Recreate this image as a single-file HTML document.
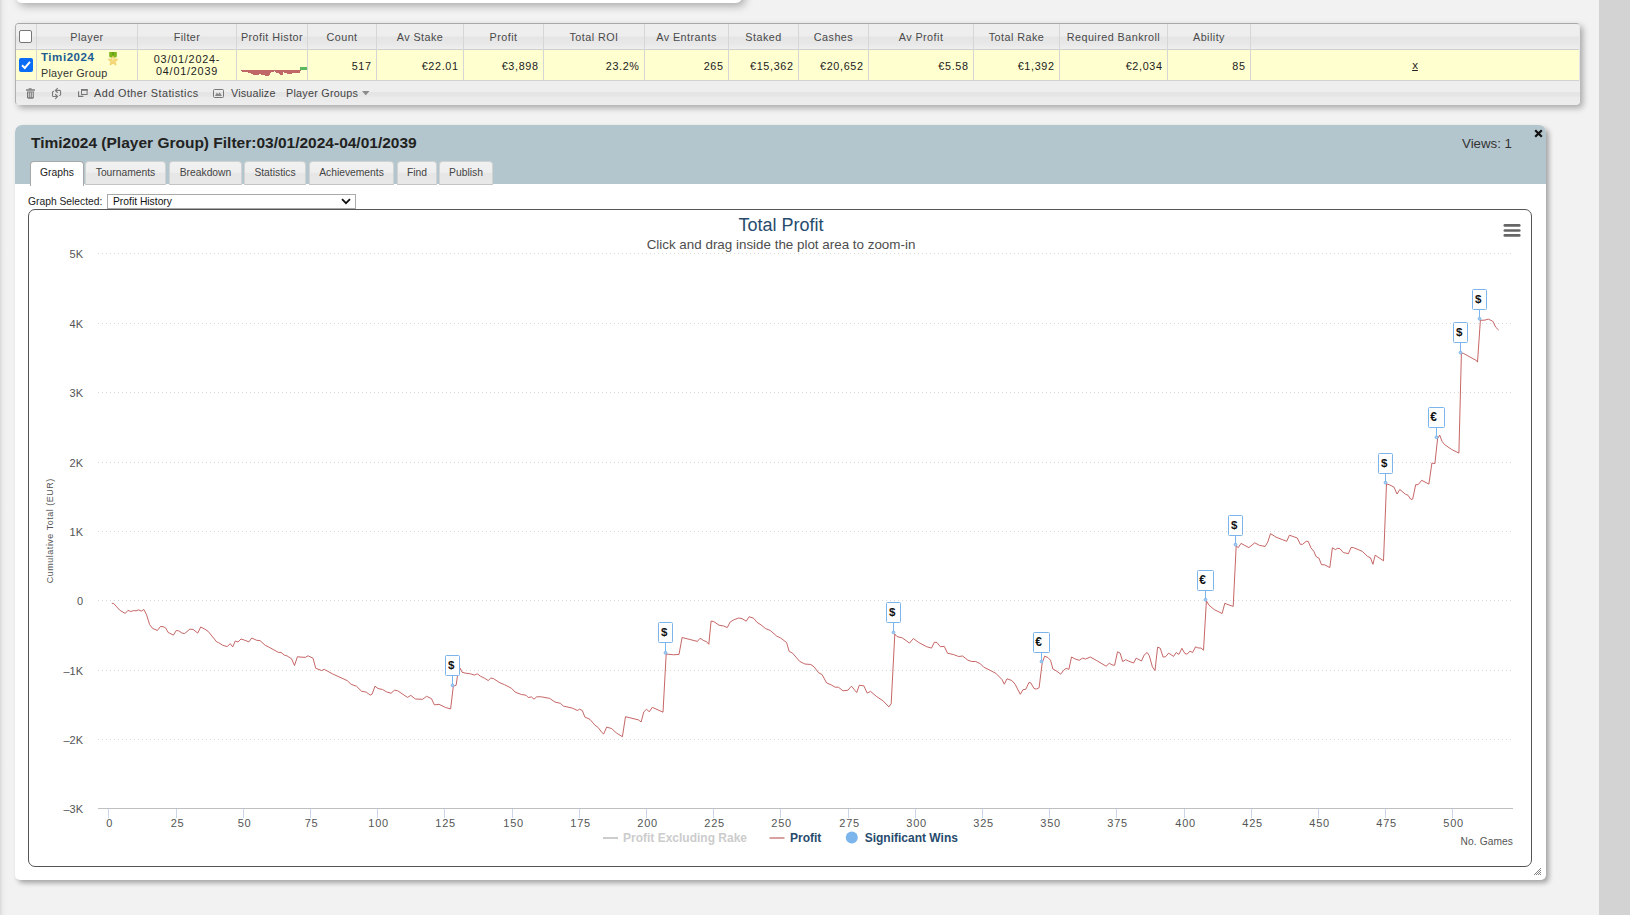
<!DOCTYPE html>
<html><head><meta charset="utf-8">
<style>
*{box-sizing:border-box;margin:0;padding:0}
html,body{width:1630px;height:915px;overflow:hidden;background:#f2f2f2;font-family:"Liberation Sans",sans-serif;color:#333;position:relative}
.a{position:absolute}
#lstrip{left:0;top:0;width:7px;height:915px;background:linear-gradient(to right,#d8d8d8,#e6e6e6 25%,#eeeeee 55%,#f2f2f2)}
#rstrip{left:1599px;top:0;width:31px;height:915px;background:#d3d3d3}
#topbox{left:16px;top:-20px;width:726px;height:23px;background:#fff;border-radius:0 0 6px 6px;box-shadow:3px 3px 8px rgba(0,0,0,.3)}
#tbl{left:15px;top:23px;width:1565px;height:82px;border:1px solid #b0b0b0;border-top-color:#a8a8a8;border-right-color:#e8e8e8;border-bottom-color:#ececec;border-radius:4px;background:#ececec;box-shadow:3px 3px 6px rgba(0,0,0,.3)}
.vd{top:24px;width:1px;height:56px;background:#d6d6d6}
.th{top:24px;height:25px;line-height:27.5px;text-align:center;font-size:10.8px;letter-spacing:.45px;color:#4a4a4a;white-space:nowrap}
.td{top:50px;height:30px;line-height:32.5px;text-align:right;padding-right:4.4px;font-size:10.8px;letter-spacing:.65px;color:#222;white-space:nowrap}
#hrow{left:16px;top:24px;width:1563px;height:25px;background:linear-gradient(#eeeeee 0%,#eeeeee 49%,#e5e5e5 51%,#e7e7e7 75%,#ececec 92%,#efefef 100%);border-radius:3px 3px 0 0}
#hline{left:16px;top:49px;width:1563px;height:1px;background:#cfcfcf}
#drow{left:16px;top:50px;width:1563px;height:30px;background:#ffffd0}
#dline{left:16px;top:80px;width:1563px;height:1px;background:#d2d2d2}
#frow{left:16px;top:81px;width:1564px;height:23px;background:linear-gradient(#eeeeee 0%,#eeeeee 46%,#e5e5e5 50%,#e6e6e6 66%,#ebebeb 72%,#ededed 100%);border-radius:0 0 3px 3px}
.ft{top:81px;height:23px;line-height:24px;font-size:10.8px;letter-spacing:.25px;color:#444;white-space:nowrap}
#panel{left:15px;top:125px;width:1531px;height:755px;background:#fff;border-radius:7px 7px 5px 5px;box-shadow:3px 3px 5px rgba(0,0,0,.32)}
#phead{left:15px;top:125px;width:1531px;height:59px;background:#b3c6cd;border-radius:7px 7px 0 0}
.tab{top:161px;height:24px;border:1px solid #d2d2d2;border-bottom-color:#c4c4c4;border-radius:4px 4px 0 0;background:linear-gradient(#f1f1f1 0%,#eeeeee 47%,#e6e6e6 52%,#e8e8e8 100%);font-size:10.3px;color:#444;text-align:center;line-height:21px;white-space:nowrap}
.tab.act{background:#fff;color:#222;border-color:#a8a8a8;border-bottom:none;height:25px}
#cbox{left:28px;top:209px;width:1504px;height:658px;border:1px solid #555;border-radius:7px;background:#fff}
</style></head><body>
<div class="a" id="lstrip"></div>
<div class="a" id="rstrip"></div>
<div class="a" id="topbox"></div>
<!-- TABLE -->
<div class="a" id="tbl"></div>
<div class="a" id="hrow"></div>
<div class="a" id="hline"></div>
<div class="a" id="drow"></div>
<div class="a" id="dline"></div>
<div class="a" id="frow"></div>
<div class="a vd" style="left:36px"></div>
<div class="a vd" style="left:137px"></div>
<div class="a vd" style="left:236px"></div>
<div class="a vd" style="left:307px"></div>
<div class="a vd" style="left:376px"></div>
<div class="a vd" style="left:463px"></div>
<div class="a vd" style="left:543px"></div>
<div class="a vd" style="left:644px"></div>
<div class="a vd" style="left:728px"></div>
<div class="a vd" style="left:798px"></div>
<div class="a vd" style="left:868px"></div>
<div class="a vd" style="left:973px"></div>
<div class="a vd" style="left:1059px"></div>
<div class="a vd" style="left:1167px"></div>
<div class="a vd" style="left:1250px"></div>
<div class="a th" style="left:37px;width:100px">Player</div>
<div class="a th" style="left:138px;width:98px">Filter</div>
<div class="a th" style="left:237px;width:70px">Profit Histor</div>
<div class="a th" style="left:308px;width:68px">Count</div>
<div class="a td" style="left:308px;width:68px">517</div>
<div class="a th" style="left:377px;width:86px">Av Stake</div>
<div class="a td" style="left:377px;width:86px">€22.01</div>
<div class="a th" style="left:464px;width:79px">Profit</div>
<div class="a td" style="left:464px;width:79px">€3,898</div>
<div class="a th" style="left:544px;width:100px">Total ROI</div>
<div class="a td" style="left:544px;width:100px">23.2%</div>
<div class="a th" style="left:645px;width:83px">Av Entrants</div>
<div class="a td" style="left:645px;width:83px">265</div>
<div class="a th" style="left:729px;width:69px">Staked</div>
<div class="a td" style="left:729px;width:69px">€15,362</div>
<div class="a th" style="left:799px;width:69px">Cashes</div>
<div class="a td" style="left:799px;width:69px">€20,652</div>
<div class="a th" style="left:869px;width:104px">Av Profit</div>
<div class="a td" style="left:869px;width:104px">€5.58</div>
<div class="a th" style="left:974px;width:85px">Total Rake</div>
<div class="a td" style="left:974px;width:85px">€1,392</div>
<div class="a th" style="left:1060px;width:107px">Required Bankroll</div>
<div class="a td" style="left:1060px;width:107px">€2,034</div>
<div class="a th" style="left:1168px;width:82px">Ability</div>
<div class="a td" style="left:1168px;width:82px">85</div>
<div class="a" style="left:19px;top:30px;width:13px;height:13px;border:1px solid #767676;border-radius:2px;background:#fff"></div>
<div class="a" style="left:19px;top:58px;width:14px;height:14px;border-radius:2px;background:#0b6cf5"></div>
<svg class="a" style="left:19px;top:58px" width="14" height="14" viewBox="0 0 14 14"><path d="M3 7.2 L5.8 10 L11 3.8" fill="none" stroke="#fff" stroke-width="2"/></svg>
<div class="a" style="left:41px;top:50px;font-size:11.5px;font-weight:bold;color:#1c5b94;line-height:14px;letter-spacing:.55px">Timi2024</div>
<div class="a" style="left:41px;top:66px;font-size:10.8px;letter-spacing:.23px;color:#333;line-height:14px">Player Group</div>
<svg class="a" style="left:107px;top:51px" width="12" height="16" viewBox="0 0 12 16"><path d="M2.2 1 H9.8 V5 Q9.8 6.6 8.2 6.6 L7 6.6 L6 5.2 L5 6.6 L3.8 6.6 Q2.2 6.6 2.2 5 Z" fill="#7db61c"/><path d="M5.3 1 H6.7 V6 H5.3Z" fill="#5e9a10"/><path d="M6.00 4.60 L7.47 7.88 L11.04 8.26 L8.38 10.67 L9.12 14.19 L6.00 12.40 L2.88 14.19 L3.62 10.67 L0.96 8.26 L4.53 7.88 Z" fill="#f5d978" stroke="#ebc45a" stroke-width=".5" stroke-linejoin="round"/><path d="M6 6 L6.8 8.6 L6 9.5 L5.2 8.6Z" fill="#fbeec0"/></svg>
<div class="a" style="left:138px;top:53px;width:98px;text-align:center;font-size:10.8px;letter-spacing:.8px;color:#222;line-height:12.3px">03/01/2024-<br>04/01/2039</div>
<svg class="a" style="left:236px;top:60px" width="72" height="20" viewBox="0 0 72 20"><path d="M5 10 H65 V11 H64 V13 H56 V14 H51 V13 H48 V12 H47 V15 H44 V14 H43 V13 H40 V12 H39 V11 H38 V12 H35 V13 H34 V15 H33 V16 H29 V15 H25 V14 H23 V15 H17 V14 H15 V13 H12 V12 H6 V11 H5 Z" fill="#c06767"/><rect x="64" y="7" width="7" height="3" fill="#5cb85c"/></svg>
<div class="a" style="left:1251px;top:50px;width:328px;height:30px;line-height:31px;text-align:center;font-size:11.5px;color:#222;text-decoration:underline">x</div>
<!-- footer -->
<svg class="a" style="left:25px;top:87px" width="11" height="13" viewBox="0 0 11 13"><rect x="3.6" y="1.3" width="3" height="1.2" fill="#777"/><rect x="1" y="2.3" width="9" height="1.4" fill="#777"/><path d="M2 4.6 H9 V10.4 L8 11.8 H3 L2 10.4 Z" fill="#777"/><rect x="3.3" y="5.4" width="0.9" height="4.9" fill="#e8e8e8"/><rect x="5.3" y="5.4" width="0.9" height="4.9" fill="#e8e8e8"/><rect x="7.3" y="5.4" width="0.9" height="4.9" fill="#e8e8e8"/></svg>
<svg class="a" style="left:48px;top:85px" width="18" height="16" viewBox="0 0 18 16"><path d="M11.7 5.4 H7.4 M9.4 3.3 L7.3 5.4 L9.4 7.5 M11.6 5.4 Q12.6 5.4 12.6 6.5 V9.6 Q12.6 10.5 11.6 10.5 M5.4 11.5 H9.6 M7.5 9.5 L9.6 11.5 L7.5 13.6 M5.4 11.5 Q4.5 11.5 4.5 10.4 V7.4 Q4.5 6.4 5.4 6.4" fill="none" stroke="#7a7a7a" stroke-width="1.1" stroke-linecap="round"/></svg>
<svg class="a" style="left:78px;top:89px" width="10" height="8" viewBox="0 0 10 8"><path d="M0.6 2.2 V7.4 H5.4" fill="none" stroke="#777" stroke-width="1.1"/><rect x="3.5" y="0.5" width="5.6" height="5" fill="none" stroke="#777" stroke-width="1"/><rect x="3" y="0" width="6.6" height="1.8" fill="#777"/></svg>
<div class="a ft" style="left:94px;letter-spacing:.46px">Add Other Statistics</div>
<svg class="a" style="left:213px;top:89px" width="11" height="9" viewBox="0 0 11 9"><rect x="0.5" y="0.5" width="10" height="8" rx="1" fill="none" stroke="#777" stroke-width="1"/><path d="M2 7 L3.8 3.6 L5.2 5.2 L6.6 3.2 L9 7 Z" fill="#888"/></svg>
<div class="a ft" style="left:231px;letter-spacing:.18px">Visualize</div>
<div class="a ft" style="left:286px">Player Groups</div>
<svg class="a" style="left:362px;top:91px" width="8" height="5" viewBox="0 0 8 5"><path d="M0 0 H7.5 L3.75 4.2 Z" fill="#8a8a8a"/></svg>
<!-- PANEL -->
<div class="a" id="panel"></div>
<div class="a" id="phead"></div>
<div class="a" style="left:31px;top:133px;font-size:15.5px;font-weight:bold;color:#222;line-height:20px;white-space:nowrap">Timi2024 (Player Group) Filter:03/01/2024-04/01/2039</div>
<div class="a" style="left:1462px;top:134.6px;font-size:13.3px;color:#333;line-height:17px;white-space:nowrap">Views: 1</div>
<svg class="a" style="left:1534px;top:129px" width="9" height="9" viewBox="0 0 9 9"><path d="M1.2 1.2 L7.8 7.8 M7.8 1.2 L1.2 7.8" stroke="#111" stroke-width="2.2"/></svg>
<div class="a tab act" style="left:30px;width:54px">Graphs</div>
<div class="a tab" style="left:85px;width:81px">Tournaments</div>
<div class="a tab" style="left:169px;width:73px">Breakdown</div>
<div class="a tab" style="left:244px;width:62px">Statistics</div>
<div class="a tab" style="left:309px;width:85px">Achievements</div>
<div class="a tab" style="left:397px;width:40px">Find</div>
<div class="a tab" style="left:439px;width:54px">Publish</div>
<div class="a" style="left:28px;top:194px;font-size:10.3px;color:#222;line-height:15px">Graph Selected:</div>
<div class="a" style="left:107px;top:194px;width:249px;height:15px;border:1px solid #a9a9a9;background:#fff;font-size:10.3px;color:#111;line-height:13px;padding-left:5px">Profit History</div>
<svg class="a" style="left:341px;top:198px" width="10" height="7" viewBox="0 0 10 7"><path d="M1 1.2 L5 5.2 L9 1.2" fill="none" stroke="#111" stroke-width="1.8"/></svg>
<div class="a" id="cbox"></div>
<!--CHART-->
<svg class="a" style="left:0;top:0" width="1630" height="915" viewBox="0 0 1630 915" font-family="Liberation Sans, sans-serif">
<text x="781" y="231" text-anchor="middle" font-size="18" fill="#274b6d">Total Profit</text>
<text x="781" y="249" text-anchor="middle" font-size="13.4" fill="#4d4d4d">Click and drag inside the plot area to zoom-in</text>
<line x1="98" y1="253.5" x2="1513" y2="253.5" stroke="#d8d8d8" stroke-width="1" stroke-dasharray="1 3"/>
<line x1="98" y1="323.5" x2="1513" y2="323.5" stroke="#d8d8d8" stroke-width="1" stroke-dasharray="1 3"/>
<line x1="98" y1="392.5" x2="1513" y2="392.5" stroke="#d8d8d8" stroke-width="1" stroke-dasharray="1 3"/>
<line x1="98" y1="462.5" x2="1513" y2="462.5" stroke="#d8d8d8" stroke-width="1" stroke-dasharray="1 3"/>
<line x1="98" y1="531.5" x2="1513" y2="531.5" stroke="#d8d8d8" stroke-width="1" stroke-dasharray="1 3"/>
<line x1="98" y1="600.5" x2="1513" y2="600.5" stroke="#d8d8d8" stroke-width="1" stroke-dasharray="1 3"/>
<line x1="98" y1="670.5" x2="1513" y2="670.5" stroke="#d8d8d8" stroke-width="1" stroke-dasharray="1 3"/>
<line x1="98" y1="739.5" x2="1513" y2="739.5" stroke="#d8d8d8" stroke-width="1" stroke-dasharray="1 3"/>
<text x="83" y="257.8" text-anchor="end" font-size="11" fill="#555">5K</text>
<text x="83" y="327.8" text-anchor="end" font-size="11" fill="#555">4K</text>
<text x="83" y="396.8" text-anchor="end" font-size="11" fill="#555">3K</text>
<text x="83" y="466.8" text-anchor="end" font-size="11" fill="#555">2K</text>
<text x="83" y="535.8" text-anchor="end" font-size="11" fill="#555">1K</text>
<text x="83" y="604.8" text-anchor="end" font-size="11" fill="#555">0</text>
<text x="83" y="674.8" text-anchor="end" font-size="11" fill="#555">&#8211;1K</text>
<text x="83" y="743.8" text-anchor="end" font-size="11" fill="#555">&#8211;2K</text>
<text x="83" y="812.8" text-anchor="end" font-size="11" fill="#555">&#8211;3K</text>
<text transform="translate(52.5,530.7) rotate(-90)" text-anchor="middle" font-size="9" letter-spacing="0.5" fill="#555">Cumulative Total (EUR)</text>
<line x1="98" y1="808.5" x2="1513" y2="808.5" stroke="#c0c0c0" stroke-width="1"/>
<line x1="108.5" y1="809" x2="108.5" y2="818" stroke="#ccd6eb" stroke-width="1"/>
<text x="109.6" y="826.5" text-anchor="middle" font-size="11" letter-spacing="0.7" fill="#555">0</text>
<line x1="176.5" y1="809" x2="176.5" y2="818" stroke="#ccd6eb" stroke-width="1"/>
<text x="177.6" y="826.5" text-anchor="middle" font-size="11" letter-spacing="0.7" fill="#555">25</text>
<line x1="243.5" y1="809" x2="243.5" y2="818" stroke="#ccd6eb" stroke-width="1"/>
<text x="244.6" y="826.5" text-anchor="middle" font-size="11" letter-spacing="0.7" fill="#555">50</text>
<line x1="310.5" y1="809" x2="310.5" y2="818" stroke="#ccd6eb" stroke-width="1"/>
<text x="311.6" y="826.5" text-anchor="middle" font-size="11" letter-spacing="0.7" fill="#555">75</text>
<line x1="377.5" y1="809" x2="377.5" y2="818" stroke="#ccd6eb" stroke-width="1"/>
<text x="378.6" y="826.5" text-anchor="middle" font-size="11" letter-spacing="0.7" fill="#555">100</text>
<line x1="444.5" y1="809" x2="444.5" y2="818" stroke="#ccd6eb" stroke-width="1"/>
<text x="445.6" y="826.5" text-anchor="middle" font-size="11" letter-spacing="0.7" fill="#555">125</text>
<line x1="512.5" y1="809" x2="512.5" y2="818" stroke="#ccd6eb" stroke-width="1"/>
<text x="513.6" y="826.5" text-anchor="middle" font-size="11" letter-spacing="0.7" fill="#555">150</text>
<line x1="579.5" y1="809" x2="579.5" y2="818" stroke="#ccd6eb" stroke-width="1"/>
<text x="580.6" y="826.5" text-anchor="middle" font-size="11" letter-spacing="0.7" fill="#555">175</text>
<line x1="646.5" y1="809" x2="646.5" y2="818" stroke="#ccd6eb" stroke-width="1"/>
<text x="647.6" y="826.5" text-anchor="middle" font-size="11" letter-spacing="0.7" fill="#555">200</text>
<line x1="713.5" y1="809" x2="713.5" y2="818" stroke="#ccd6eb" stroke-width="1"/>
<text x="714.6" y="826.5" text-anchor="middle" font-size="11" letter-spacing="0.7" fill="#555">225</text>
<line x1="780.5" y1="809" x2="780.5" y2="818" stroke="#ccd6eb" stroke-width="1"/>
<text x="781.6" y="826.5" text-anchor="middle" font-size="11" letter-spacing="0.7" fill="#555">250</text>
<line x1="848.5" y1="809" x2="848.5" y2="818" stroke="#ccd6eb" stroke-width="1"/>
<text x="849.6" y="826.5" text-anchor="middle" font-size="11" letter-spacing="0.7" fill="#555">275</text>
<line x1="915.5" y1="809" x2="915.5" y2="818" stroke="#ccd6eb" stroke-width="1"/>
<text x="916.6" y="826.5" text-anchor="middle" font-size="11" letter-spacing="0.7" fill="#555">300</text>
<line x1="982.5" y1="809" x2="982.5" y2="818" stroke="#ccd6eb" stroke-width="1"/>
<text x="983.6" y="826.5" text-anchor="middle" font-size="11" letter-spacing="0.7" fill="#555">325</text>
<line x1="1049.5" y1="809" x2="1049.5" y2="818" stroke="#ccd6eb" stroke-width="1"/>
<text x="1050.6" y="826.5" text-anchor="middle" font-size="11" letter-spacing="0.7" fill="#555">350</text>
<line x1="1116.5" y1="809" x2="1116.5" y2="818" stroke="#ccd6eb" stroke-width="1"/>
<text x="1117.6" y="826.5" text-anchor="middle" font-size="11" letter-spacing="0.7" fill="#555">375</text>
<line x1="1184.5" y1="809" x2="1184.5" y2="818" stroke="#ccd6eb" stroke-width="1"/>
<text x="1185.6" y="826.5" text-anchor="middle" font-size="11" letter-spacing="0.7" fill="#555">400</text>
<line x1="1251.5" y1="809" x2="1251.5" y2="818" stroke="#ccd6eb" stroke-width="1"/>
<text x="1252.6" y="826.5" text-anchor="middle" font-size="11" letter-spacing="0.7" fill="#555">425</text>
<line x1="1318.5" y1="809" x2="1318.5" y2="818" stroke="#ccd6eb" stroke-width="1"/>
<text x="1319.6" y="826.5" text-anchor="middle" font-size="11" letter-spacing="0.7" fill="#555">450</text>
<line x1="1385.5" y1="809" x2="1385.5" y2="818" stroke="#ccd6eb" stroke-width="1"/>
<text x="1386.6" y="826.5" text-anchor="middle" font-size="11" letter-spacing="0.7" fill="#555">475</text>
<line x1="1452.5" y1="809" x2="1452.5" y2="818" stroke="#ccd6eb" stroke-width="1"/>
<text x="1453.6" y="826.5" text-anchor="middle" font-size="11" letter-spacing="0.7" fill="#555">500</text>
<text x="1513" y="844.5" text-anchor="end" font-size="10.2" letter-spacing="0.1" fill="#555">No. Games</text>
<path d="M111.8 603.3 L113.8 603.6 L119.7 610.2 L125.2 613.4 L127.9 610.4 L130.8 611.5 L133.4 610.6 L136.1 610.8 L138.7 609.9 L141.3 611.1 L143.9 609.5 L146.6 614.8 L149.6 624.6 L152.5 628.3 L157.4 630.5 L160.3 626.6 L163.0 626.6 L165.6 627.9 L168.2 632.5 L173.4 635.1 L176.3 630.5 L178.7 630.8 L182.0 633.1 L184.6 633.5 L189.8 629.2 L193.1 629.4 L197.7 633.1 L200.7 627.0 L204.9 629.2 L208.2 631.4 L216.7 641.9 L218.7 642.7 L222.6 645.2 L227.2 646.6 L230.2 643.6 L232.7 646.9 L235.3 641.0 L238.0 642.0 L241.0 639.0 L244.3 640.1 L248.9 641.9 L251.7 638.0 L256.7 640.3 L260.0 640.6 L265.2 645.3 L268.5 646.9 L278.4 652.4 L281.0 652.4 L284.3 655.1 L286.9 655.8 L291.5 658.7 L294.5 665.5 L297.4 656.7 L300.0 657.0 L305.2 657.4 L308.1 655.8 L313.1 658.3 L315.7 668.3 L321.6 670.5 L324.3 669.4 L332.8 674.0 L347.2 680.6 L351.1 684.3 L356.4 686.2 L361.6 691.2 L366.2 692.1 L370.2 695.1 L372.1 694.1 L375.0 686.2 L378.0 688.5 L382.6 689.5 L386.6 691.9 L391.1 693.2 L394.4 690.2 L397.7 690.8 L407.5 697.4 L410.8 695.4 L415.4 699.0 L422.6 699.3 L426.6 696.3 L431.5 698.7 L434.4 704.9 L439.0 704.3 L445.6 707.5 L450.6 708.9 L453.3 686.4 L455.1 685.6 L456.1 685.3 L457.4 676.4 L460.3 668.3 L462.0 672.2 L465.2 673.1 L470.5 673.8 L474.4 675.1 L477.3 673.8 L480.3 676.1 L484.9 678.4 L488.2 680.6 L490.8 678.0 L493.4 678.6 L500.0 682.8 L504.6 684.7 L511.5 688.3 L515.3 692.2 L521.4 694.5 L526.0 695.2 L528.3 697.5 L531.4 696.9 L534.0 699.2 L536.7 696.8 L541.3 696.8 L549.7 698.4 L555.1 702.1 L560.4 703.3 L563.5 706.1 L572.7 708.2 L577.3 710.5 L579.6 709.2 L582.3 710.5 L584.9 717.1 L590.0 719.4 L594.9 725.1 L598.2 727.5 L601.8 732.4 L603.7 734.0 L606.7 727.1 L611.7 728.6 L616.3 732.9 L622.4 736.7 L625.5 716.7 L638.5 719.9 L641.1 722.0 L643.8 711.8 L646.6 709.2 L649.2 711.8 L652.3 707.3 L663.0 712.2 L666.2 654.0 L673.7 654.8 L679.0 654.4 L682.1 637.5 L697.4 641.4 L700.0 638.3 L703.9 640.7 L706.6 641.7 L708.8 644.3 L711.1 621.0 L713.8 621.6 L719.0 625.2 L723.6 626.0 L727.3 627.5 L730.2 622.0 L734.1 619.7 L738.7 618.0 L742.0 618.6 L746.2 621.2 L749.2 616.7 L753.8 618.4 L757.0 622.3 L761.0 624.9 L765.6 628.6 L770.2 630.4 L776.7 636.1 L780.7 638.0 L786.6 642.6 L789.2 651.4 L792.5 653.1 L799.7 661.4 L804.9 664.0 L810.8 664.5 L814.1 666.9 L818.7 672.8 L822.0 674.5 L826.6 682.9 L831.8 685.2 L835.1 687.2 L838.4 687.2 L843.0 690.8 L847.9 690.2 L851.5 686.2 L856.7 692.5 L859.3 685.2 L863.9 685.9 L867.2 693.1 L870.5 691.4 L876.4 696.4 L882.9 700.7 L888.9 706.9 L891.2 703.6 L894.8 634.0 L897.0 636.6 L902.3 637.9 L909.5 643.1 L913.4 638.5 L918.7 642.5 L926.6 646.7 L931.5 648.1 L934.4 642.2 L937.0 642.5 L940.3 646.7 L944.3 646.4 L947.5 653.2 L953.4 654.5 L958.7 656.5 L962.6 656.0 L967.9 660.2 L971.8 661.5 L975.7 661.5 L980.3 663.7 L983.6 667.1 L990.8 670.7 L996.1 673.5 L1002.0 679.6 L1004.3 684.2 L1007.0 678.8 L1011.8 680.5 L1015.1 684.2 L1020.3 694.3 L1023.0 689.7 L1025.8 689.3 L1028.9 682.5 L1030.8 682.9 L1034.1 688.6 L1036.7 689.0 L1039.1 687.7 L1042.2 662.8 L1044.6 656.2 L1047.9 657.5 L1050.5 660.2 L1052.9 669.0 L1057.0 671.3 L1060.7 674.2 L1063.6 670.3 L1066.2 668.4 L1068.9 669.3 L1071.5 657.0 L1075.2 659.0 L1079.2 660.3 L1082.5 658.1 L1085.5 659.0 L1090.3 657.0 L1096.2 660.3 L1106.1 666.2 L1109.3 663.2 L1112.0 664.9 L1114.6 665.3 L1117.5 651.8 L1120.1 653.1 L1122.7 661.6 L1125.7 659.7 L1128.4 661.0 L1133.6 663.0 L1136.2 658.1 L1141.5 661.0 L1144.1 655.1 L1147.1 652.5 L1149.3 655.7 L1152.4 666.9 L1155.0 670.6 L1157.6 647.2 L1160.2 648.1 L1163.1 657.0 L1165.5 656.8 L1168.6 653.1 L1173.6 656.4 L1176.2 652.5 L1178.9 654.4 L1181.9 648.3 L1184.8 653.4 L1187.1 654.2 L1190.0 651.1 L1192.6 652.5 L1195.6 646.8 L1197.9 647.9 L1201.1 648.1 L1203.5 650.2 L1206.4 600.9 L1209.0 605.2 L1214.3 609.6 L1222.1 613.5 L1224.8 603.3 L1228.0 604.6 L1233.2 606.4 L1236.2 545.9 L1238.3 547.6 L1241.0 543.4 L1248.9 547.6 L1254.8 542.8 L1259.5 545.4 L1265.2 546.4 L1267.8 541.9 L1270.5 533.6 L1276.1 537.2 L1286.7 541.3 L1289.4 535.2 L1297.3 538.0 L1300.3 544.3 L1302.6 544.3 L1306.2 541.3 L1308.3 541.5 L1310.9 547.8 L1313.8 551.3 L1316.2 556.7 L1318.9 558.1 L1321.5 564.6 L1324.8 564.9 L1329.8 567.6 L1332.4 547.8 L1335.4 549.6 L1337.4 548.4 L1339.8 548.6 L1343.3 552.5 L1348.4 553.7 L1351.0 547.6 L1353.4 547.6 L1362.2 551.3 L1367.5 556.4 L1370.5 557.8 L1372.9 564.3 L1375.2 555.2 L1383.5 560.8 L1386.5 483.9 L1389.2 484.7 L1394.0 487.1 L1397.0 494.0 L1399.8 489.5 L1405.5 494.3 L1407.9 495.2 L1410.9 499.4 L1412.7 499.1 L1415.7 484.7 L1418.1 484.7 L1421.7 480.3 L1428.9 484.1 L1431.9 463.1 L1434.9 463.5 L1437.6 438.6 L1439.7 435.1 L1442.1 441.5 L1444.5 444.5 L1451.7 449.5 L1458.9 453.1 L1461.4 353.3 L1463.3 353.3 L1476.5 360.6 L1477.5 362.1 L1480.4 320.1 L1481.9 320.3 L1484.9 320.1 L1488.3 319.1 L1492.8 321.3 L1495.7 327.2 L1498.7 330.1" fill="none" stroke="#c05555" stroke-width="1" stroke-linejoin="round" stroke-opacity="0.9"/>
<line x1="452.5" y1="675.5" x2="452.5" y2="685.3" stroke="#7cb5ec" stroke-width="1"/>
<rect x="445.5" y="655.5" width="14" height="20" rx="1" fill="#fff" stroke="#7cb5ec" stroke-width="1"/>
<circle cx="452.5" cy="685.3" r="1.4" fill="#a9cdf2" stroke="#7cb5ec" stroke-width="1"/>
<text x="448.1" y="669.1" font-size="11.5" font-weight="bold" fill="#111">$</text>
<line x1="665.5" y1="642.5" x2="665.5" y2="652.8" stroke="#7cb5ec" stroke-width="1"/>
<rect x="658.5" y="622.5" width="14" height="20" rx="1" fill="#fff" stroke="#7cb5ec" stroke-width="1"/>
<circle cx="665.5" cy="652.8" r="1.4" fill="#a9cdf2" stroke="#7cb5ec" stroke-width="1"/>
<text x="661.1" y="636.1" font-size="11.5" font-weight="bold" fill="#111">$</text>
<line x1="893.5" y1="622.5" x2="893.5" y2="632.4" stroke="#7cb5ec" stroke-width="1"/>
<rect x="886.5" y="602.5" width="14" height="20" rx="1" fill="#fff" stroke="#7cb5ec" stroke-width="1"/>
<circle cx="893.5" cy="632.4" r="1.4" fill="#a9cdf2" stroke="#7cb5ec" stroke-width="1"/>
<text x="889.1" y="616.1" font-size="11.5" font-weight="bold" fill="#111">$</text>
<line x1="1041.5" y1="652.5" x2="1041.5" y2="661.5" stroke="#7cb5ec" stroke-width="1"/>
<rect x="1033.5" y="632.5" width="16" height="20" rx="1" fill="#fff" stroke="#7cb5ec" stroke-width="1"/>
<circle cx="1041.5" cy="661.5" r="1.4" fill="#a9cdf2" stroke="#7cb5ec" stroke-width="1"/>
<text x="1035.3" y="646.1" font-size="12" font-weight="bold" fill="#111">€</text>
<line x1="1205.5" y1="590.5" x2="1205.5" y2="599.7" stroke="#7cb5ec" stroke-width="1"/>
<rect x="1197.5" y="570.5" width="16" height="20" rx="1" fill="#fff" stroke="#7cb5ec" stroke-width="1"/>
<circle cx="1205.5" cy="599.7" r="1.4" fill="#a9cdf2" stroke="#7cb5ec" stroke-width="1"/>
<text x="1199.3" y="584.1" font-size="12" font-weight="bold" fill="#111">€</text>
<line x1="1235.5" y1="535.5" x2="1235.5" y2="544.6" stroke="#7cb5ec" stroke-width="1"/>
<rect x="1228.5" y="515.5" width="14" height="20" rx="1" fill="#fff" stroke="#7cb5ec" stroke-width="1"/>
<circle cx="1235.5" cy="544.6" r="1.4" fill="#a9cdf2" stroke="#7cb5ec" stroke-width="1"/>
<text x="1231.1" y="529.1" font-size="11.5" font-weight="bold" fill="#111">$</text>
<line x1="1385.5" y1="473.5" x2="1385.5" y2="482.6" stroke="#7cb5ec" stroke-width="1"/>
<rect x="1378.5" y="453.5" width="14" height="20" rx="1" fill="#fff" stroke="#7cb5ec" stroke-width="1"/>
<circle cx="1385.5" cy="482.6" r="1.4" fill="#a9cdf2" stroke="#7cb5ec" stroke-width="1"/>
<text x="1381.1" y="467.1" font-size="11.5" font-weight="bold" fill="#111">$</text>
<line x1="1436.5" y1="427.5" x2="1436.5" y2="437.3" stroke="#7cb5ec" stroke-width="1"/>
<rect x="1428.5" y="407.5" width="16" height="20" rx="1" fill="#fff" stroke="#7cb5ec" stroke-width="1"/>
<circle cx="1436.5" cy="437.3" r="1.4" fill="#a9cdf2" stroke="#7cb5ec" stroke-width="1"/>
<text x="1430.3" y="421.1" font-size="12" font-weight="bold" fill="#111">€</text>
<line x1="1460.5" y1="342.5" x2="1460.5" y2="352.6" stroke="#7cb5ec" stroke-width="1"/>
<rect x="1453.5" y="322.5" width="14" height="20" rx="1" fill="#fff" stroke="#7cb5ec" stroke-width="1"/>
<circle cx="1460.5" cy="352.6" r="1.4" fill="#a9cdf2" stroke="#7cb5ec" stroke-width="1"/>
<text x="1456.1" y="336.1" font-size="11.5" font-weight="bold" fill="#111">$</text>
<line x1="1479.5" y1="309.5" x2="1479.5" y2="318.8" stroke="#7cb5ec" stroke-width="1"/>
<rect x="1472.5" y="289.5" width="14" height="20" rx="1" fill="#fff" stroke="#7cb5ec" stroke-width="1"/>
<circle cx="1479.5" cy="318.8" r="1.4" fill="#a9cdf2" stroke="#7cb5ec" stroke-width="1"/>
<text x="1475.1" y="303.1" font-size="11.5" font-weight="bold" fill="#111">$</text>
<line x1="603" y1="838" x2="618" y2="838" stroke="#cccccc" stroke-width="2"/>
<text x="623" y="841.7" font-size="12" font-weight="bold" fill="#cccccc">Profit Excluding Rake</text>
<line x1="769.5" y1="838" x2="784.5" y2="838" stroke="#d9a0a0" stroke-width="2"/>
<text x="790" y="841.7" font-size="12" font-weight="bold" fill="#274b6d">Profit</text>
<circle cx="851.8" cy="837.5" r="6" fill="#7cb5ec"/>
<text x="864.7" y="841.7" font-size="12" font-weight="bold" fill="#274b6d">Significant Wins</text>
<line x1="1504.8" y1="225.4" x2="1519.3" y2="225.4" stroke="#666" stroke-width="2.6" stroke-linecap="round"/>
<line x1="1504.8" y1="230.5" x2="1519.3" y2="230.5" stroke="#666" stroke-width="2.6" stroke-linecap="round"/>
<line x1="1504.8" y1="235.4" x2="1519.3" y2="235.4" stroke="#666" stroke-width="2.6" stroke-linecap="round"/>
<line x1="1534" y1="875" x2="1541" y2="868" stroke="#222" stroke-width="0.8" stroke-dasharray="1 0.45"/>
<line x1="1536" y1="875" x2="1541" y2="870" stroke="#222" stroke-width="0.8" stroke-dasharray="1 0.45"/>
<line x1="1538" y1="875" x2="1541" y2="872" stroke="#222" stroke-width="0.8" stroke-dasharray="1 0.45"/>
<line x1="1540" y1="875" x2="1541" y2="874" stroke="#222" stroke-width="0.8" stroke-dasharray="1 0.45"/>
</svg>
<!--/CHART-->
</body></html>
